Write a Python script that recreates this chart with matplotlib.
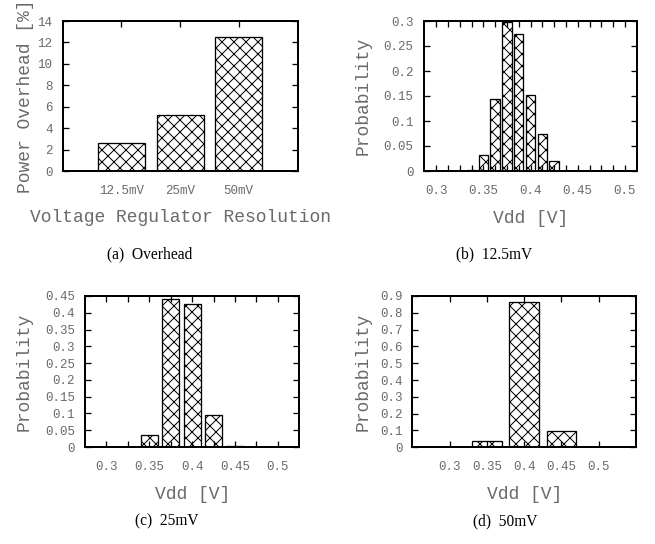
import matplotlib
matplotlib.use("Agg")
import matplotlib.pyplot as plt
import numpy as np

# ---- data ----
categories = ['12.5mV', '25mV', '50mV']
overhead = [2.6, 5.2, 12.5]

vdd_125 = [0.3375, 0.35, 0.3625, 0.375, 0.3875, 0.4, 0.4125, 0.425]
prob_125 = [0.003, 0.033, 0.144, 0.299, 0.275, 0.153, 0.075, 0.021]

vdd_25 = [0.35, 0.375, 0.4, 0.425, 0.45]
prob_25 = [0.035, 0.442, 0.427, 0.094, 0.002]

vdd_50 = [0.35, 0.4, 0.45]
prob_50 = [0.036, 0.866, 0.098]

captions = ['(a)  Overhead', '(b)  12.5mV', '(c)  25mV', '(d)  50mV']

# ---- style ----
W, H = 655, 544
DPI = 72
plt.rcParams['hatch.linewidth'] = 1.0
plt.rcParams['hatch.color'] = 'black'
MONO = 'Liberation Mono'
SERIF = 'Liberation Serif'
GRAY = '#6a6a6a'
TICK_FS = 12.5
LAB_FS = 18
CAP_FS = 15.5

fig = plt.figure(figsize=(W / DPI, H / DPI), dpi=DPI)


def box(l, r, t, b):
    return [l / W, 1 - b / H, (r - l) / W, (b - t) / H]


def style_axes(ax):
    for s in ax.spines.values():
        s.set_linewidth(2)
        s.set_color('black')
    ax.tick_params(direction='in', length=6, width=1.3, top=True, right=True,
                   colors='black', labelcolor=GRAY, labelsize=TICK_FS)
    for lab in ax.get_xticklabels() + ax.get_yticklabels():
        lab.set_family(MONO)


def fmt(v):
    return ('%.2f' % v).rstrip('0').rstrip('.') if v != 0 else '0'


barkw = dict(color='white', edgecolor='black', linewidth=1.3, hatch='xx')

# (a) overhead
ax = fig.add_axes(box(62.5, 297.5, 21, 171))
xpos = np.arange(1, len(categories) + 1)
ax.bar(xpos, overhead, width=0.8, **barkw)
ax.set_xlim(0, 4)
ax.set_ylim(0, 14)
ax.set_xticks(xpos)
ax.set_xticklabels(categories)
ax.set_yticks(np.arange(0, 15, 2))
style_axes(ax)
ax.tick_params(axis='x', bottom=False, pad=14)
ax.tick_params(axis='y', pad=10)
ax.set_xlabel('Voltage Regulator Resolution', family=MONO, fontsize=LAB_FS, color=GRAY, labelpad=12)
ax.set_ylabel('Power Overhead [%]', family=MONO, fontsize=LAB_FS, color=GRAY, labelpad=4)


def prob_panel(rect, x, y, step, xlim, ylim, ystep, ylabpad, ylabelpad):
    ax = fig.add_axes(rect)
    ax.bar(x, y, width=0.8 * step, **barkw)
    ax.set_xlim(*xlim)
    ax.set_ylim(*ylim)
    ticks = np.round(np.arange(0.3, 0.5 + step / 2, step), 4)
    ax.set_xticks(ticks)
    ax.set_xticklabels([fmt(t) if abs(round(t / 0.05) * 0.05 - t) < 1e-6 else '' for t in ticks])
    yt = np.round(np.arange(0, ylim[1] + ystep / 2, ystep), 4)
    ax.set_yticks(yt)
    ax.set_yticklabels([fmt(v) for v in yt])
    style_axes(ax)
    ax.tick_params(axis='x', pad=14)
    ax.tick_params(axis='y', pad=ylabpad)
    ax.set_xlabel('Vdd [V]', family=MONO, fontsize=LAB_FS, color=GRAY, labelpad=13)
    ax.set_ylabel('Probability', family=MONO, fontsize=LAB_FS, color=GRAY, labelpad=ylabelpad)
    return ax


prob_panel(box(424.3, 636.7, 21, 171), vdd_125, prob_125, 0.0125, (0.2875, 0.5125), (0, 0.3), 0.05, 11, 12)
prob_panel(box(85, 299.3, 296, 447), vdd_25, prob_25, 0.025, (0.275, 0.525), (0, 0.45), 0.05, 10, 12)
prob_panel(box(412.3, 636, 296, 447.3), vdd_50, prob_50, 0.05, (0.25, 0.55), (0, 0.9), 0.1, 10, 8)

# captions
cap_pos = [(150, 254), (494, 254), (167, 521), (505, 521)]
for (cx, cy), txt in zip(cap_pos, captions):
    fig.text(cx / W, 1 - cy / H, txt, ha='center', va='center', family=SERIF, fontsize=CAP_FS, color='black')

fig.savefig('out.png', dpi=DPI)
